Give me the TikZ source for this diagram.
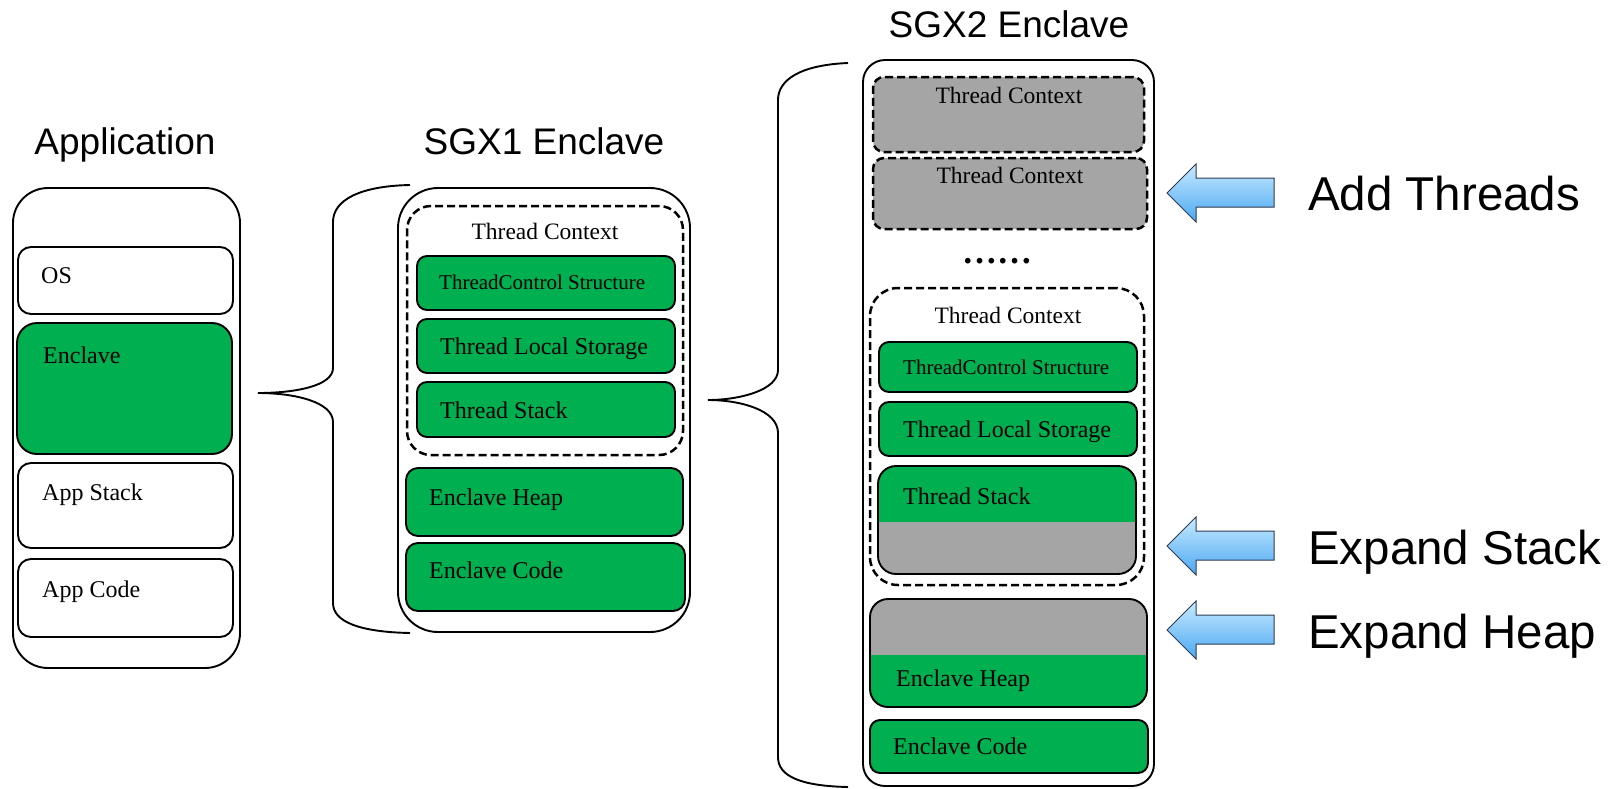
\documentclass[tikz,border=0pt]{standalone}
\usepackage{fontspec}
\setmainfont{Liberation Serif}
\newfontfamily\labelfont{Liberation Sans}
\definecolor{encgreen}{HTML}{00AF50}
\definecolor{expgray}{HTML}{A5A5A5}
\definecolor{arrowtop}{HTML}{C8EAFF}
\definecolor{arrowbot}{HTML}{4AA8F2}
\definecolor{arrowline}{HTML}{2E3B52}
\newcommand\placebox[6]{\node[#6, minimum width={(#4)-(#2)}, minimum height={(#5)-(#3)}] (#1) at ({((#2)+(#4))/2},{((#3)+(#5))/2}) {};}
\tikzset{
  outerbox/.style={draw, line width=1.9pt, fill=white, inner sep=0pt, outer sep=0pt},
  whitebox/.style={draw, line width=1.9pt, fill=white, rounded corners=13pt, inner sep=0pt, outer sep=0pt},
  greenbox/.style={draw, line width=1.9pt, fill=encgreen, rounded corners=10pt, inner sep=0pt, outer sep=0pt},
  ctxbox/.style={draw, line width=2.5pt, dash pattern=on 8pt off 4pt, inner sep=0pt, outer sep=0pt},
  boxtext/.style={anchor=base west, inner sep=0pt, font=\fontsize{24}{28}\selectfont},
  smalltext/.style={anchor=base west, inner sep=0pt, font=\fontsize{21}{25}\selectfont},
  ctxtext/.style={anchor=base, inner sep=0pt, font=\fontsize{23.5}{28}\selectfont},
  titletext/.style={anchor=base, inner sep=0pt, font=\labelfont\fontsize{37}{42}\selectfont},
  sidetext/.style={anchor=base west, inner sep=0pt, font=\labelfont\fontsize{47.5}{54}\selectfont},
  brace/.style={draw, line width=1.9pt},
  bluearrow/.style={draw=arrowline, line width=1pt, top color=arrowtop, bottom color=arrowbot, line join=miter}
}
\begin{document}
\begin{tikzpicture}[x=1pt, y=-1pt]
\useasboundingbox (0,0) rectangle (1612,788);

% ---------- Application ----------
\node[titletext] (apptitle) at (125,154) {Application};
\placebox{app}{13}{188}{240}{668}{outerbox, rounded corners=35pt}
\placebox{os}{18}{247}{233}{314}{whitebox}
\placebox{encl}{17}{323}{232}{454}{greenbox, rounded corners=20pt}
\placebox{appstack}{18}{463}{233}{548}{whitebox}
\placebox{appcode}{18}{559}{233}{637}{whitebox}
\node[boxtext] (ostxt) at (41,283) {OS};
\node[boxtext] (encltxt) at (43,363) {Enclave};
\node[boxtext] (appstacktxt) at (42,500) {App Stack};
\node[boxtext] (appcodetxt) at (42,597) {App Code};

% ---------- brace 1 ----------
\coordinate (b1top) at (410,185);
\coordinate (b1tip) at (258,393);
\coordinate (b1bot) at (410,633);
\draw[brace] (b1top) .. controls (360,186) and (333,200) .. (333,222)
  -- (333,368) .. controls (333,386) and (295,393) .. (b1tip)
  .. controls (295,393) and (333,402) .. (333,422)
  -- (333,603) .. controls (333,622) and (360,632) .. (b1bot);

% ---------- SGX1 Enclave ----------
\node[titletext] (sgx1title) at (544,154) {SGX1 Enclave};
\placebox{sgx1}{398}{188}{690}{632}{outerbox, rounded corners=40pt}
\placebox{ctx1}{407}{206}{683}{455}{ctxbox, rounded corners=24pt}
\node[ctxtext] (ctx1txt) at (545,239) {Thread Context};
\placebox{tcs1}{417}{256}{675}{310}{greenbox}
\placebox{tls1}{417}{319}{675}{373}{greenbox}
\placebox{tst1}{417}{382}{675}{437}{greenbox}
\placebox{heap1}{406}{468}{683}{536}{greenbox, rounded corners=12pt}
\placebox{code1}{406}{543}{685}{611}{greenbox, rounded corners=12pt}
\node[smalltext] (tcs1txt) at (439,289) {ThreadControl Structure};
\node[boxtext] (tls1txt) at (440,354) {Thread Local Storage};
\node[boxtext] (tst1txt) at (440,418) {Thread Stack};
\node[boxtext] (heap1txt) at (429,505) {Enclave Heap};
\node[boxtext] (code1txt) at (429,578) {Enclave Code};

% ---------- brace 2 ----------
\coordinate (b2top) at (848,63);
\coordinate (b2tip) at (708,400);
\coordinate (b2bot) at (848,787);
\draw[brace] (b2top) .. controls (800,65) and (778,80) .. (778,100)
  -- (778,370) .. controls (778,390) and (740,400) .. (b2tip)
  .. controls (740,400) and (778,410) .. (778,433)
  -- (778,757) .. controls (778,776) and (800,786) .. (b2bot);

% ---------- SGX2 Enclave ----------
\node[titletext] (sgx2title) at (1009,37) {SGX2 Enclave};
\placebox{sgx2}{863}{60}{1154}{786}{outerbox, rounded corners=22pt}
\placebox{ctxa}{873}{77}{1144}{152}{ctxbox, fill=expgray, rounded corners=11pt}
\placebox{ctxb}{873}{158}{1147}{229}{ctxbox, fill=expgray, rounded corners=11pt}
\node[ctxtext] (ctxatxt) at (1009,103) {Thread Context};
\node[ctxtext] (ctxbtxt) at (1010,183) {Thread Context};
\node[anchor=base, inner sep=0pt, font=\bfseries\fontsize{35}{40}\selectfont] (dots) at (997,263) {……};
\placebox{ctx2}{870}{288}{1144}{585}{ctxbox, rounded corners=28pt}
\node[ctxtext] (ctx2txt) at (1008,323) {Thread Context};
\placebox{tcs2}{879}{342}{1137}{392}{greenbox}
\placebox{tls2}{879}{402}{1137}{456}{greenbox}
\placebox{tst2}{878}{466}{1136}{574}{greenbox, rounded corners=18pt,
  path picture={\fill[expgray, sharp corners] (path picture bounding box.south west) rectangle ([yshift=52pt]path picture bounding box.south east);}}
\placebox{heap2}{870}{599}{1147}{707}{greenbox, rounded corners=18pt,
  path picture={\fill[expgray, sharp corners] (path picture bounding box.north west) rectangle ([yshift=-56pt]path picture bounding box.north east);}}
\placebox{code2}{870}{720}{1148}{773}{greenbox}
\node[smalltext] (tcs2txt) at (903,374) {ThreadControl Structure};
\node[boxtext] (tls2txt) at (903,437) {Thread Local Storage};
\node[boxtext] (tst2txt) at (903,504) {Thread Stack};
\node[boxtext] (heap2txt) at (896,686) {Enclave Heap};
\node[boxtext] (code2txt) at (893,754) {Enclave Code};

% ---------- arrows and labels ----------
\foreach \ty/\nm in {193/addarrow, 546/stackarrow, 630/heaparrow}{
  \path[bluearrow] (1167,\ty) -- (1196,\ty-29) -- (1196,\ty-15) -- (1274,\ty-15)
    -- (1274,\ty+14) -- (1196,\ty+14) -- (1196,\ty+29) -- cycle;
}
\node[sidetext] (addtxt) at (1308,210) {Add Threads};
\node[sidetext] (stacktxt) at (1308,564) {Expand Stack};
\node[sidetext] (heaptxt) at (1308,648) {Expand Heap};
\end{tikzpicture}
\end{document}
